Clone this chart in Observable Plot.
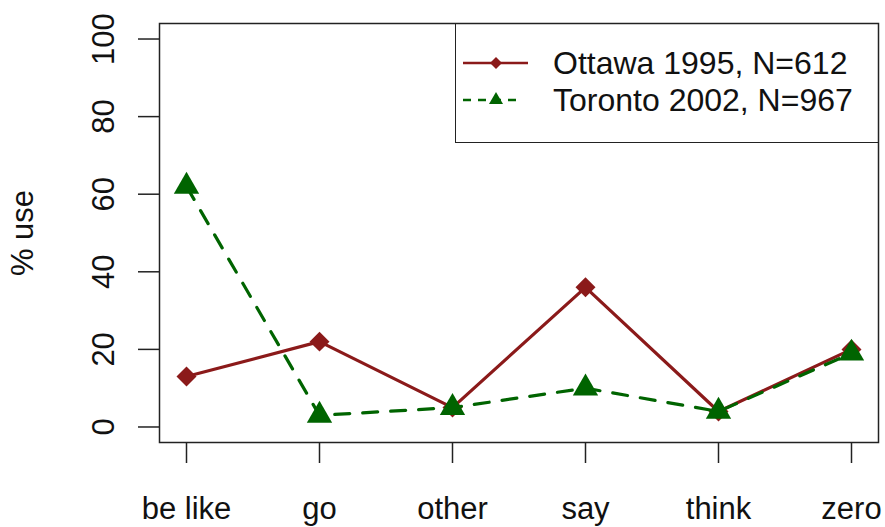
<!DOCTYPE html>
<html>
<head>
<meta charset="utf-8">
<script src="https://cdn.jsdelivr.net/npm/d3@7"></script>
<script src="https://cdn.jsdelivr.net/npm/@observablehq/plot@0.6"></script>
<style>
  body { margin: 0; background: #fff; }
  #wrap { position: relative; width: 885px; height: 527px; font-family: "Liberation Sans", Arial, sans-serif; color: #111; }
  #legend { position: absolute; left: 455px; top: 23px; width: 423px; height: 120px;
            border-left: 1.5px solid #222; border-bottom: 1.5px solid #222; box-sizing: border-box; }
  .row { position: absolute; left: 0; height: 36px; display: flex; align-items: center; }
  .row svg { position: absolute; left: 5px; }
  .row span { position: absolute; left: 97px; font-size: 32px; white-space: nowrap; line-height: 36px; }
</style>
</head>
<body>
<div id="wrap"></div>
<script>
// Quotative categories and share of use (%) per corpus
const categories = ["be like", "go", "other", "say", "think", "zero"];
const ottawa = [13, 22, 5, 36, 4, 20];
const toronto = [62, 3, 5, 10, 4, 19];
const yTicks = [0, 20, 40, 60, 80, 100];
const seriesNames = ["Ottawa 1995, N=612", "Toronto 2002, N=967"];
const seriesColors = ["#8b1a1a", "#006400"];

const ottawaRows = categories.map((c, i) => ({cat: c, v: ottawa[i]}));
const torontoRows = categories.map((c, i) => ({cat: c, v: toronto[i]}));

const ink = "#222";

const chart = Plot.plot({
  width: 885,
  height: 527,
  marginLeft: 159,
  marginRight: 7,
  marginTop: 23,
  marginBottom: 85,
  style: {fontFamily: "Liberation Sans, Arial, sans-serif", background: "#fff", color: "#111"},
  x: {type: "point", domain: categories, padding: 0.195},
  y: {domain: [-4, 104]},
  marks: [
    Plot.frame({stroke: ink, strokeWidth: 1.5}),
    Plot.axisY(yTicks, {tickSize: 21, fill: "none", stroke: ink, strokeWidth: 1.5}),
    Plot.axisX(categories, {tickSize: 21, fill: "none", stroke: ink, strokeWidth: 1.5}),
    // rotated y tick labels, R style
    Plot.text(yTicks, {y: d => d, text: d => String(d), frameAnchor: "left", dx: -55, rotate: -90,
      textAnchor: "middle", lineAnchor: "middle", fontSize: 31, fill: "#111"}),
    // category labels under the axis
    Plot.text(categories, {x: d => d, text: d => d, frameAnchor: "bottom", dy: 76,
      textAnchor: "middle", fontSize: 31, fill: "#111"}),
    // y axis title
    Plot.text(["% use"], {text: d => d, frameAnchor: "left", dx: -136, rotate: -90,
      textAnchor: "middle", lineAnchor: "middle", fontSize: 31, fill: "#111"}),
    Plot.line(ottawaRows, {x: "cat", y: "v", stroke: seriesColors[0], strokeWidth: 3.2}),
    Plot.dot(ottawaRows, {x: "cat", y: "v", symbol: "diamond2", r: 9, fill: seriesColors[0], stroke: "none"}),
    Plot.line(torontoRows, {x: "cat", y: "v", stroke: seriesColors[1], strokeWidth: 3.2, strokeDasharray: "15,13"}),
    Plot.dot(torontoRows, {x: "cat", y: "v", symbol: "triangle", r: 9.4, fill: seriesColors[1], stroke: "none"})
  ]
});

const wrap = document.getElementById("wrap");
wrap.appendChild(chart);

// legend box in the top-right corner of the panel
const legend = document.createElement("div");
legend.id = "legend";
const swatches = [
  `<svg width="72" height="24"><line x1="2" y1="12" x2="67" y2="12" stroke="${seriesColors[0]}" stroke-width="2.5"/>
     <path d="M35,6 L41,12 L35,18 L29,12 Z" fill="${seriesColors[0]}"/></svg>`,
  `<svg width="72" height="24"><line x1="2" y1="12" x2="62" y2="12" stroke="${seriesColors[1]}" stroke-width="2.5" stroke-dasharray="8,7"/>
     <path d="M35,4 L42,16 L28,16 Z" fill="${seriesColors[1]}"/></svg>`
];
const rowTops = [22, 59];
seriesNames.forEach((name, i) => {
  const row = document.createElement("div");
  row.className = "row";
  row.style.top = rowTops[i] + "px";
  row.innerHTML = swatches[i].replace("<svg", `<svg style="top:6px"`) + `<span>${name}</span>`;
  legend.appendChild(row);
});
wrap.appendChild(legend);
</script>
</body>
</html>
